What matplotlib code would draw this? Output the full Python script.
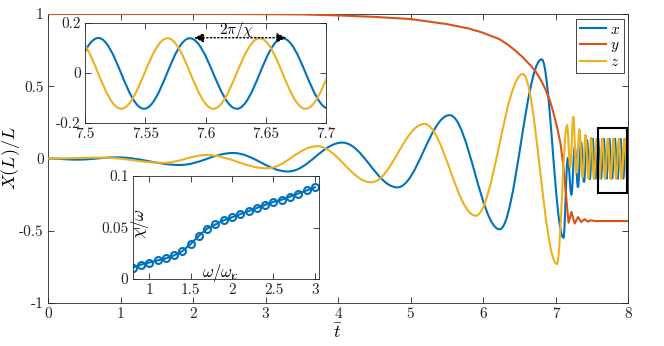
import numpy as np
import matplotlib
matplotlib.use("Agg")
import matplotlib.pyplot as plt
from matplotlib.path import Path
from matplotlib.patches import PathPatch, Rectangle
from matplotlib.lines import Line2D

# ---------------- data ----------------
# extrema (time, value) of the x component
x_t = [0.0, 0.40, 0.95, 1.82, 2.55, 3.31, 4.06, 4.82, 5.54, 6.23, 6.81, 7.11,
       7.169, 7.219, 7.266, 7.310, 7.352, 7.393, 7.433, 7.4725, 7.511, 7.549,
       7.587, 7.626, 7.664, 7.7025, 7.741, 7.7795, 7.818, 7.8565, 7.895, 7.9335,
       7.972, 8.0105]
x_v = [0.0, -0.008, 0.008, -0.045, 0.038, -0.09, 0.11, -0.20, 0.30, -0.49, 0.686, -0.548,
       0.0, -0.25, 0.08, -0.20, 0.115, -0.165, 0.13, -0.145, 0.14, -0.143,
       0.139, -0.143, 0.139, -0.143, 0.139, -0.143, 0.139, -0.143, 0.139, -0.143,
       0.139, -0.143]

# extrema (time, value) of the z component
z_t = [0.0, 0.75, 1.59, 2.19, 3.02, 3.71, 4.46, 5.19, 5.90, 6.55, 7.02,
       7.16, 7.2025, 7.245, 7.2875, 7.33, 7.3725, 7.415, 7.453, 7.4915, 7.530,
       7.5685, 7.6065, 7.645, 7.683, 7.7215, 7.7595, 7.798, 7.836, 7.8745, 7.9125,
       7.951, 7.989, 8.0275]
z_v = [0.0, 0.006, -0.03, 0.024, -0.068, 0.085, -0.165, 0.239, -0.396, 0.585, -0.73,
       0.23, -0.06, 0.29, -0.10, 0.20, -0.13, 0.165, -0.14, 0.145, -0.143,
       0.139, -0.143, 0.139, -0.143, 0.139, -0.143, 0.139, -0.143, 0.139, -0.143,
       0.139, -0.143, 0.139]

# y component (samples)
y_t = [0.0, 2.5, 3.5, 4.0, 4.5, 5.0, 5.5, 5.8, 6.0, 6.1, 6.23, 6.35, 6.45, 6.55, 6.65,
       6.73, 6.8, 6.86, 6.92, 6.97, 7.02, 7.07, 7.11, 7.15, 7.18,
       7.22, 7.265, 7.31, 7.355, 7.40, 7.445, 7.49, 7.55, 8.0]
y_v = [1.0, 1.0, 0.997, 0.99, 0.98, 0.965, 0.93, 0.9, 0.87, 0.85, 0.825, 0.785, 0.745, 0.70, 0.647,
       0.60, 0.54, 0.48, 0.405, 0.32, 0.22, 0.10, -0.06, -0.28, -0.445,
       -0.37, -0.45, -0.405, -0.44, -0.42, -0.437, -0.428, -0.433, -0.433]

# inset: chi/omega against omega/omega_c
omega = [0.8, 0.9, 1.0, 1.1, 1.2, 1.3, 1.4, 1.5, 1.6, 1.7, 1.8, 1.9,
         2.0, 2.1, 2.2, 2.3, 2.4, 2.5, 2.6, 2.7, 2.8, 2.9, 3.0]
chi_w = [0.011, 0.014, 0.016, 0.018, 0.020, 0.023, 0.027, 0.034, 0.042, 0.049, 0.053, 0.057,
         0.060, 0.063, 0.066, 0.069, 0.072, 0.075, 0.077, 0.080, 0.083, 0.086, 0.089]

main_xticks = [0, 1, 2, 3, 4, 5, 6, 7, 8]
main_yticks = [-1, -0.5, 0, 0.5, 1]
main_ylabels = ['-1', '-0.5', '0', '0.5', '1']
in1_xticks = [7.5, 7.55, 7.6, 7.65, 7.7]
in1_yticks = [-0.2, 0, 0.2]
in1_ylabels = ['-0.2', '0', '0.2']
in2_xticks = [1, 1.5, 2, 2.5, 3]
in2_yticks = [0, 0.05, 0.1]

blue = '#0072BD'
red = '#D95319'
yellow = '#EDB120'


def smooth_path(t, v, c=0.3642):
    # cubic bezier pieces between consecutive extrema, flat at each extremum
    verts = [(t[0], v[0])]
    codes = [Path.MOVETO]
    for i in range(len(t) - 1):
        dt = t[i + 1] - t[i]
        verts += [(t[i] + c * dt, v[i]), (t[i + 1] - c * dt, v[i + 1]), (t[i + 1], v[i + 1])]
        codes += [Path.CURVE4] * 3
    return Path(verts, codes)


def style_axes(ax):
    for s in ax.spines.values():
        s.set_color('#262626')
        s.set_linewidth(0.6)
    ax.tick_params(direction='in', top=True, right=True, colors='#262626',
                   labelcolor='#262626', width=0.6, length=4, labelsize=11, pad=3)


plt.rcParams['font.family'] = 'serif'
plt.rcParams['font.serif'] = ['cmr10']
plt.rcParams['mathtext.fontset'] = 'cm'
plt.rcParams['axes.unicode_minus'] = False

fig = plt.figure(figsize=(6.64, 3.46), dpi=100)
ax = fig.add_axes([0.0723, 0.1243, 0.8735, 0.8353])

ax.add_patch(PathPatch(smooth_path(x_t, x_v), fill=False, edgecolor=blue, lw=1.5, zorder=2))
ax.plot(y_t, y_v, color=red, lw=1.5, zorder=3)
ax.add_patch(PathPatch(smooth_path(z_t, z_v), fill=False, edgecolor=yellow, lw=1.5, zorder=4))
ax.add_patch(Rectangle((7.59, -0.241), 0.40, 0.454, fill=False, edgecolor='k', lw=1.5, zorder=5))

ax.set_xlim(0, 8)
ax.set_ylim(-1, 1)
ax.set_xticks(main_xticks)
ax.set_yticks(main_yticks)
ax.set_yticklabels(main_ylabels)
style_axes(ax)
ax.set_xlabel(r'$\bar{t}$', fontsize=13, labelpad=1)
ax.set_ylabel(r'$X(L)/L$', fontsize=13)
ax.yaxis.set_label_coords(-0.045, 0.5)

handles = [Line2D([], [], color=blue, lw=1.5, label='$x$'),
           Line2D([], [], color=red, lw=1.5, label='$y$'),
           Line2D([], [], color=yellow, lw=1.5, label='$z$')]
leg = ax.legend(handles=handles, loc='upper right', bbox_to_anchor=(0.993, 0.982),
                fontsize=11, handlelength=1.7, labelspacing=0.1, borderpad=0.25,
                handletextpad=0.25, borderaxespad=0, fancybox=False, framealpha=1)
leg.get_frame().set_edgecolor('#262626')
leg.get_frame().set_linewidth(0.6)

# inset 1: zoom of the late oscillation
ax1 = fig.add_axes([0.128, 0.6445, 0.363, 0.289])
ax1.add_patch(PathPatch(smooth_path(x_t, x_v), fill=False, edgecolor=blue, lw=1.5))
ax1.add_patch(PathPatch(smooth_path(z_t, z_v), fill=False, edgecolor=yellow, lw=1.5))
ax1.set_xlim(7.5, 7.7)
ax1.set_ylim(-0.2, 0.2)
ax1.set_xticks(in1_xticks)
ax1.set_xticklabels([str(v) for v in in1_xticks])
ax1.set_yticks(in1_yticks)
ax1.set_yticklabels(in1_ylabels)
style_axes(ax1)
ax1.annotate('', xy=(7.667, 0.141), xytext=(7.5905, 0.141),
             arrowprops=dict(arrowstyle='<|-|>', color='k', lw=1, linestyle=':',
                             mutation_scale=14, shrinkA=0, shrinkB=0))
ax1.text(7.626, 0.172, r'$2\pi/\chi$', fontsize=11, ha='center', va='center')

# inset 2: chi/omega
ax2 = fig.add_axes([0.1998, 0.1936, 0.2806, 0.2977])
ax2.plot(omega, chi_w, '-o', color=blue, lw=1.5, ms=5, mfc='none', mew=1.5)
ax2.set_xlim(0.8, 3.05)
ax2.set_ylim(0, 0.1)
ax2.set_xticks(in2_xticks)
ax2.set_xticklabels(['1', '1.5', '2', '2.5', '3'])
ax2.set_yticks(in2_yticks)
ax2.set_yticklabels(['0', '0.05', '0.1'])
style_axes(ax2)
ax2.set_ylabel(r'$\chi/\omega$', fontsize=12)
ax2.yaxis.set_label_coords(0.1, 0.54)
ax2.set_xlabel(r'$\omega/\omega_c$', fontsize=12)
ax2.xaxis.set_label_coords(0.47, 0.17)

fig.savefig('out.png', dpi=100)
